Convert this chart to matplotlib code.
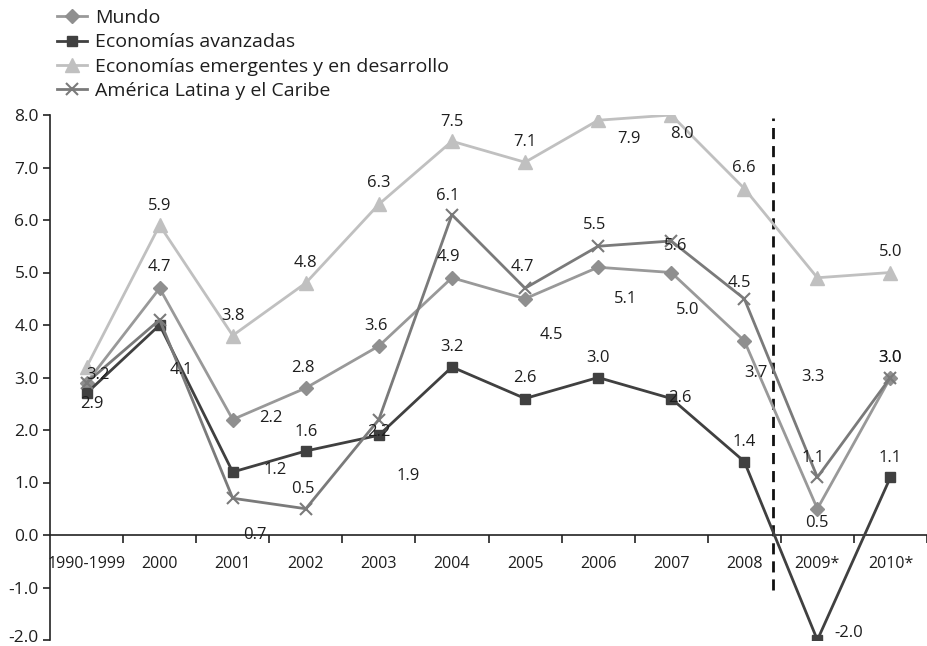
import matplotlib
matplotlib.use("Agg")
import matplotlib.pyplot as plt
import matplotlib.transforms as mtransforms

plt.rcParams['font.family'] = ['Open Sans', 'DejaVu Sans']

categories = ["1990-1999", "2000", "2001", "2002", "2003", "2004", "2005",
              "2006", "2007", "2008", "2009*", "2010*"]

mundo = [2.9, 4.7, 2.2, 2.8, 3.6, 4.9, 4.5, 5.1, 5.0, 3.7, 0.5, 3.0]
avanzadas = [2.7, 4.0, 1.2, 1.6, 1.9, 3.2, 2.6, 3.0, 2.6, 1.4, -2.0, 1.1]
emergentes = [3.2, 5.9, 3.8, 4.8, 6.3, 7.5, 7.1, 7.9, 8.0, 6.6, 4.9, 5.0]
latam = [2.9, 4.1, 0.7, 0.5, 2.2, 6.1, 4.7, 5.5, 5.6, 4.5, 1.1, 3.0]

# data label texts as printed in the source chart
mundo_lbl = ["2.9", "4.7", "2.2", "2.8", "3.6", "4.9", "4.5", "5.1", "5.0", "3.7", "0.5", "3.0"]
avanzadas_lbl = ["", "", "1.2", "1.6", "1.9", "3.2", "2.6", "3.0", "2.6", "1.4", "-2.0", "1.1"]
emergentes_lbl = ["3.2", "5.9", "3.8", "4.8", "6.3", "7.5", "7.1", "7.9", "8.0", "6.6", "3.3", "5.0"]
latam_lbl = ["", "4.1", "0.7", "0.5", "2.2", "6.1", "4.7", "5.5", "5.6", "4.5", "1.1", "3.0"]

names = ["Mundo", "Economías avanzadas", "Economías emergentes y en desarrollo",
         "América Latina y el Caribe"]

# label offsets in pixels (dx right, dy down)
mundo_off = [(5, 21), (0, -21), (38, -2), (-3, -20), (-3, -20), (-4, -21), (26, 36),
             (27, 32), (16, 37), (12, 32), (0, 14), (0, -20)]
avanzadas_off = [(0, 0), (0, 0), (42, -2), (0, -19), (29, 41), (0, -20), (0, -20),
                 (0, -20), (9, 0), (0, -20), (31, -7), (0, -19)]
emergentes_off = [(11, 8), (0, -19), (0, -19), (0, -20), (0, -21), (0, -19), (0, -20),
                  (31, 19), (11, 19), (0, -21), (-4, 99), (0, -20)]
latam_off = [(0, 0), (22, 50), (22, 37), (-3, -20), (0, 13), (-4, -19), (-3, -21),
             (-3, -21), (4, 5), (-5, -16), (-4, -19), (0, -20)]

W, H = 927, 646
fig = plt.figure(figsize=(W / 100, H / 100), dpi=100)
ax = fig.add_axes([50 / W, 6 / H, 877 / W, 525 / H])

x = list(range(len(categories)))

styles = [
    dict(color="#999999", marker="D", markersize=7, mfc="#8f8f8f", mec="#8f8f8f"),
    dict(color="#404040", marker="s", markersize=7.5, mfc="#404040", mec="#404040"),
    dict(color="#c0c0c0", marker="^", markersize=10, mfc="#c0c0c0", mec="#c0c0c0"),
    dict(color="#7a7a7a", marker="x", markersize=9, mfc="#7a7a7a", mec="#7a7a7a", mew=1.5),
]
series = [mundo, avanzadas, emergentes, latam]
labels = [mundo_lbl, avanzadas_lbl, emergentes_lbl, latam_lbl]
offsets = [mundo_off, avanzadas_off, emergentes_off, latam_off]

handles = []
for vals, st, nm in zip(series, styles, names):
    h, = ax.plot(x, vals, linewidth=2, label=nm, zorder=3, **st)
    handles.append(h)

for vals, lbls, offs in zip(series, labels, offsets):
    for xi, v, t, (dx, dy) in zip(x, vals, lbls, offs):
        if t:
            ax.annotate(t, (xi, v), xytext=(dx, -dy), textcoords="offset pixels",
                        ha="center", va="center", fontsize=12, color="#1e1e1e", zorder=5)

ax.set_xlim(-0.5, -0.5 + 877 / 74)
ax.set_ylim(-2, 8)
yt = [-2, -1, 0, 1, 2, 3, 4, 5, 6, 7, 8]
ax.set_yticks(yt)
ax.set_yticklabels([f"{v:.1f}" for v in yt])

ax.spines["top"].set_visible(False)
ax.spines["right"].set_visible(False)
ax.spines["bottom"].set_position(("data", 0))
for s in ["left", "bottom"]:
    ax.spines[s].set_color("#222222")
    ax.spines[s].set_linewidth(1.2)

ax.set_xticks([i + 0.5 for i in range(len(categories))])
ax.set_xticklabels([])
ax.set_xticks(x, minor=True)
ax.set_xticklabels(categories, minor=True)
ax.tick_params(axis="x", which="major", direction="out", length=6, width=1.2, color="#222222")
ax.tick_params(axis="x", which="minor", length=0, pad=15, labelsize=11.5, labelcolor="#1e1e1e")
ax.tick_params(axis="y", direction="out", length=5, width=1.2, color="#222222",
               labelsize=12.5, labelcolor="#1e1e1e", pad=3)

# keep the lowest y label inside the picture
lowest = ax.get_yticklabels()[0]
lowest.set_transform(lowest.get_transform() +
                     mtransforms.ScaledTranslation(0, 4 / 100, fig.dpi_scale_trans))

# forecast separator
ax.plot([9.39, 9.39], [-1.05, 7.95], color="#111111", linestyle=(0, (4, 2.5)),
        linewidth=2, zorder=2)

fig.legend(handles=handles, loc="upper left", bbox_to_anchor=(57 / W, 1 - 9 / H),
           frameon=False, fontsize=14, handlelength=1.55, handletextpad=0.42,
           labelspacing=0.33, borderaxespad=0, borderpad=0, labelcolor="#1e1e1e")

fig.savefig("out.png", dpi=100)
